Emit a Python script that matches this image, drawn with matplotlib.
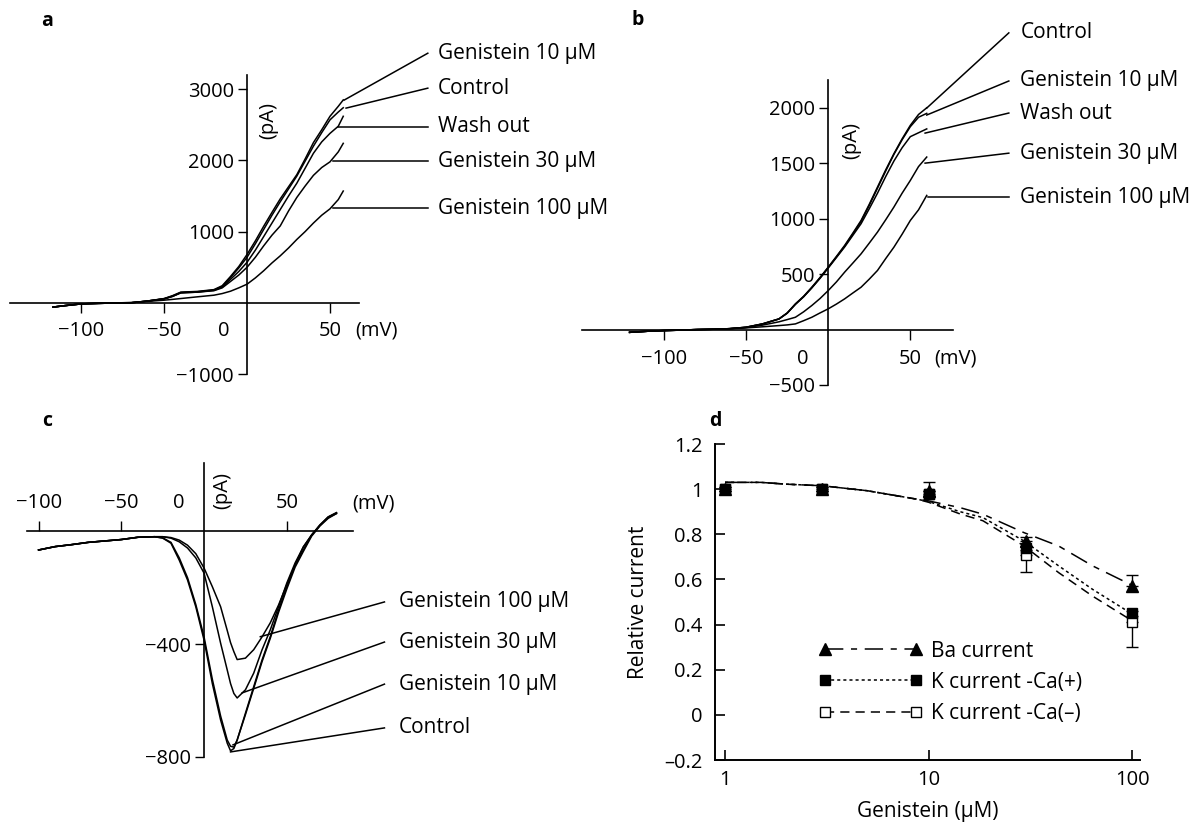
import matplotlib
matplotlib.use('Agg')
import matplotlib.pyplot as plt
from matplotlib.lines import Line2D
from matplotlib.ticker import NullLocator, FixedLocator, FixedFormatter

plt.rcParams['font.family'] = ['Open Sans', 'DejaVu Sans']
FS = 15
TFS = 14.5

# ---------------- data: panel a (mV, pA) ----------------
a_v = [-117, -110, -100, -90, -80, -70, -60, -50, -45, -40, -30, -20, -15, -10, -5,
       0, 5, 10, 15, 20, 25, 30, 35, 40, 45, 50, 55, 58]
a_g10 = [-60, -40, -15, -8, -3, 0, 25, 60, 100, 150, 160, 185, 240, 370, 510,
         680, 870, 1075, 1270, 1460, 1630, 1800, 2020, 2250, 2430, 2620, 2760, 2850]
a_ctrl = [-60, -40, -15, -8, -3, 0, 25, 58, 95, 145, 155, 180, 230, 355, 490,
          640, 830, 1030, 1230, 1420, 1600, 1780, 1990, 2200, 2390, 2570, 2680, 2740]
a_wash = [-60, -40, -15, -8, -3, 0, 25, 55, 90, 140, 150, 175, 220, 330, 440,
          570, 740, 930, 1120, 1310, 1500, 1680, 1890, 2100, 2260, 2380, 2480, 2620]
a_g30 = [-60, -40, -15, -8, -3, 0, 25, 55, 90, 140, 150, 170, 210, 300, 390,
         500, 640, 800, 950, 1080, 1290, 1480, 1640, 1790, 1900, 1980, 2120, 2240]
a_g100 = [-60, -40, -15, -8, -3, 5, 20, 37, 48, 60, 84, 107, 130, 163, 210,
          262, 350, 450, 560, 660, 770, 890, 1000, 1120, 1230, 1320, 1450, 1570]
a_names = ['Genistein 10 μM', 'Control', 'Wash out', 'Genistein 30 μM', 'Genistein 100 μM']
a_label_y = [3506, 3015, 2473, 1991, 1328]
a_tip_x = [58.5, 59.7, 55, 51.6, 51.6]
a_tip_y = [2847, 2735, 2473, 1991, 1328]

# ---------------- data: panel b (mV, pA) ----------------
b_v = [-121, -110, -100, -90, -80, -70, -60, -50, -40, -30, -25, -20, -15, -10, -5,
       0, 5, 10, 15, 20, 25, 30, 35, 40, 45, 50, 55, 60]
b_ctrl = [-25, -15, -9, -5, 0, 3, 8, 21, 51, 96, 150, 232, 300, 382, 470,
          563, 660, 759, 870, 984, 1130, 1285, 1440, 1586, 1720, 1842, 1940, 2000]
b_g10 = [-25, -15, -9, -5, 0, 3, 8, 21, 51, 96, 148, 228, 296, 378, 466,
         560, 655, 752, 862, 975, 1120, 1275, 1430, 1580, 1712, 1830, 1915, 1950]
b_wash = [-25, -15, -9, -5, 0, 3, 8, 21, 51, 96, 148, 228, 296, 376, 462,
          555, 650, 745, 850, 955, 1090, 1230, 1380, 1520, 1640, 1740, 1775, 1810]
b_g30 = [-25, -15, -9, -5, 0, 3, 8, 18, 40, 70, 90, 111, 160, 217, 280,
         352, 430, 518, 600, 683, 780, 879, 990, 1105, 1230, 1345, 1470, 1556]
b_g100 = [-25, -15, -9, -5, 0, 3, 8, 15, 25, 36, 42, 51, 80, 111, 150,
          187, 230, 277, 330, 382, 455, 533, 640, 743, 860, 984, 1080, 1210]
b_names = ['Control', 'Genistein 10 μM', 'Wash out', 'Genistein 30 μM', 'Genistein 100 μM']
b_label_y = [2676, 2242, 1953, 1591, 1193]
b_tip_x = [60, 60, 59, 59, 61]
b_tip_y = [1998, 1935, 1772, 1501, 1193]

# ---------------- data: panel c (mV, pA) ----------------
c_v = [-100, -90, -80, -70, -60, -50, -40, -30, -25, -20, -15, -10, -5, 0, 5, 10,
       14, 16, 18, 20, 25, 30, 35, 40, 45, 50, 55, 60, 65, 70, 75, 80]
c_ctrl = [-67, -55, -48, -40, -35, -30, -22, -20, -25, -43, -103, -173, -268, -386, -540, -669,
          -751, -778, -770, -740, -645, -551, -457, -374, -280, -197, -120, -67, -14, 20, 50, 65]
c_g10 = [-67, -55, -48, -40, -35, -30, -22, -20, -24, -40, -95, -165, -260, -375, -525, -655,
         -740, -762, -765, -740, -650, -557, -463, -380, -288, -205, -128, -72, -18, 18, 45, 62]
c_g30 = [-67, -55, -48, -40, -35, -30, -22, -20, -20, -25, -38, -60, -95, -149, -268, -397,
         -492, -540, -575, -591, -562, -503, -421, -350, -268, -184, -113, -56, -14, 22, 50, 65]
c_g100 = [-67, -55, -48, -40, -35, -30, -22, -20, -20, -23, -32, -50, -80, -131, -197, -268,
          -352, -395, -427, -455, -450, -420, -375, -325, -262, -190, -120, -56, -14, 20, 48, 62]
c_names = ['Genistein 100 μM', 'Genistein 30 μM', 'Genistein 10 μM', 'Control']
c_label_y = [-251, -393, -542, -697]
c_tip_x = [34, 23, 17.5, 16]
c_tip_y = [-374, -573, -757, -782]

# ---------------- data: panel d ----------------
conc = [1, 3, 10, 30, 100]
ba = [1.0, 1.0, 0.99, 0.77, 0.57]
ba_lo = [0.01, 0.01, 0.0, 0.0, 0.0]
ba_hi = [0.01, 0.01, 0.04, 0.02, 0.05]
kp = [1.0, 1.0, 0.98, 0.74, 0.45]
kp_lo = [0.01, 0.01, 0.01, 0.01, 0.01]
kp_hi = [0.01, 0.01, 0.01, 0.01, 0.01]
km = [1.0, 1.0, 0.98, 0.71, 0.41]
km_lo = [0.01, 0.01, 0.01, 0.075, 0.11]
km_hi = [0.0, 0.0, 0.0, 0.0, 0.0]
fit_x = [1, 1.5, 2, 3, 5, 8.7, 10, 14.3, 18.5, 29.5, 43.6, 64, 98]
fit_ba = [1.03, 1.03, 1.022, 1.015, 0.993, 0.956, 0.948, 0.918, 0.889, 0.807, 0.748, 0.66, 0.578]
fit_kp = [1.03, 1.03, 1.022, 1.015, 0.993, 0.956, 0.945, 0.90, 0.874, 0.77, 0.66, 0.556, 0.452]
fit_km = [1.03, 1.03, 1.022, 1.015, 0.993, 0.956, 0.942, 0.89, 0.86, 0.748, 0.63, 0.526, 0.422]
d_names = ['Ba current', 'K current -Ca(+)', 'K current -Ca(–)']
d_yticks = [-0.2, 0, 0.2, 0.4, 0.6, 0.8, 1.0, 1.2]
d_ylabels = ['–0.2', '0', '0.2', '0.4', '0.6', '0.8', '1', '1.2']

W, H = 1191, 825
fig = plt.figure(figsize=(W / 100, H / 100), dpi=100)
PX = 0.72  # points per pixel


def add_ax(x0, y0, x1, y1):
    return fig.add_axes([x0 / W, 1 - y1 / H, (x1 - x0) / W, (y1 - y0) / H])


def iv_axes(ax, xlim, ylim, xticks, yticks, ylabels, xdir):
    ax.set_xlim(xlim)
    ax.set_ylim(ylim)
    for s in ['top', 'right']:
        ax.spines[s].set_visible(False)
    ax.spines['left'].set_position(('data', 0))
    ax.spines['bottom'].set_position(('data', 0))
    for s in ['left', 'bottom']:
        ax.spines[s].set_linewidth(1.2)
    ax.set_xticks(xticks)
    ax.set_xticklabels([])
    ax.set_yticks(yticks)
    ax.set_yticklabels(ylabels)
    ax.tick_params(axis='x', direction=xdir, length=7, width=1)
    ax.tick_params(axis='y', direction='out', length=6.5, width=1, pad=3, labelsize=TFS)
    ax.patch.set_visible(False)


def x_labels(ax, ticks, labels, dy, zero_dx, mv_dx):
    for t, l in zip(ticks, labels):
        dx = zero_dx if t == 0 else 0
        ax.annotate(l, xy=(t, 0), xytext=(dx * PX, dy * PX), textcoords='offset points',
                    ha='center', va='center', fontsize=TFS)
    ax.annotate('(mV)', xy=(50, 0), xytext=(mv_dx * PX, dy * PX), textcoords='offset points',
                ha='left', va='center', fontsize=TFS)


def leaders(ax, names, ly, tx, ty, line_x, text_x):
    for n, y, x2, y2 in zip(names, ly, tx, ty):
        ax.plot([line_x, x2], [y, y2], color='k', lw=1.1, clip_on=False)
        ax.text(text_x, y, n, ha='left', va='center', fontsize=FS)


neg = '\u2212'
TLW = 1.1
# ---------------- panel a ----------------
ax = add_ax(10, 75, 359, 374)
iv_axes(ax, (-143, 67.5), (-1000, 3200), [-100, -50, 50], [-1000, 1000, 2000, 3000],
        [neg + '1000', '1000', '2000', '3000'], 'out')
for tr in [a_g10, a_ctrl, a_wash, a_g30, a_g100]:
    ax.plot(a_v, tr, color='k', lw=TLW)
x_labels(ax, [-100, -50, 0, 50], [neg + '100', neg + '50', '0', '50'], -28, -23, 25)
leaders(ax, a_names, a_label_y, a_tip_x, a_tip_y, 109, 115)
ax.text(12.7, 2567, '(pA)', rotation=90, ha='center', va='center', fontsize=TFS)

# ---------------- panel b ----------------
ax = add_ax(582, 80, 953, 385)
iv_axes(ax, (-150, 76), (-500, 2251), [-100, -50, 50], [-500, 500, 1000, 1500, 2000],
        [neg + '500', '500', '1000', '1500', '2000'], 'out')
for tr in [b_ctrl, b_g10, b_wash, b_g30, b_g100]:
    ax.plot(b_v, tr, color='k', lw=TLW)
x_labels(ax, [-100, -50, 0, 50], [neg + '100', neg + '50', '0', '50'], -29, -25, 24)
leaders(ax, b_names, b_label_y, b_tip_x, b_tip_y, 110, 117)
ax.text(14, 1709, '(pA)', rotation=90, ha='center', va='center', fontsize=TFS)

# ---------------- panel c ----------------
ax = add_ax(27, 463, 353, 757)
iv_axes(ax, (-107, 90), (-800, 241), [-100, -50, 50], [-800, -400],
        [neg + '800', neg + '400'], 'in')
for tr in [c_ctrl, c_g10, c_g30, c_g100]:
    ax.plot(c_v, tr, color='k', lw=TLW)
x_labels(ax, [-100, -50, 0, 50], [neg + '100', neg + '50', '0', '50'], 28, -25, 65)
leaders(ax, c_names, c_label_y, c_tip_x, c_tip_y, 109, 117.6)
ax.text(11, 145, '(pA)', rotation=90, ha='center', va='center', fontsize=TFS)

# ---------------- panel d ----------------
ax = add_ax(715, 444, 1140, 760)
ax.set_xscale('log')
ax.set_xlim(0.893, 109.4)
ax.set_ylim(-0.2, 1.2)
for s in ['top', 'right']:
    ax.spines[s].set_visible(False)
for s in ['left', 'bottom']:
    ax.spines[s].set_linewidth(1.4)
ax.xaxis.set_major_locator(FixedLocator([1, 10, 100]))
ax.xaxis.set_major_formatter(FixedFormatter(['1', '10', '100']))
ax.xaxis.set_minor_locator(NullLocator())
ax.set_yticks(d_yticks)
ax.set_yticklabels(d_ylabels)
ax.tick_params(axis='both', direction='in', length=7, width=1.2, labelsize=TFS)
ax.tick_params(axis='y', pad=9)
ax.tick_params(axis='x', pad=7)
ax.patch.set_visible(False)

ls_ba = (0, (12, 5, 4, 5))
ls_kp = (0, (2, 2))
ls_km = (0, (6, 4))
ax.plot(fit_x, fit_ba, color='k', lw=1.1, linestyle=ls_ba, zorder=2)
ax.plot(fit_x, fit_kp, color='k', lw=1.1, linestyle=ls_kp, zorder=2)
ax.plot(fit_x, fit_km, color='k', lw=1.1, linestyle=ls_km, zorder=2)
ax.errorbar(conc, km, yerr=[km_lo, km_hi], fmt='s', color='k', mfc='white', ms=7,
            capsize=4, elinewidth=1, capthick=1, zorder=3)
ax.errorbar(conc, ba, yerr=[ba_lo, ba_hi], fmt='^', color='k', ms=9, capsize=4,
            elinewidth=1, capthick=1, zorder=4)
ax.errorbar(conc, kp, yerr=[kp_lo, kp_hi], fmt='s', color='k', ms=7, capsize=4,
            elinewidth=1, capthick=1, zorder=5)

handles = [
    Line2D([], [], color='k', lw=1.1, linestyle=ls_ba, marker='^', ms=9),
    Line2D([], [], color='k', lw=1.1, linestyle=ls_kp, marker='s', ms=7),
    Line2D([], [], color='k', lw=1.1, linestyle=ls_km, marker='s', ms=7, mfc='white'),
]
ax.legend(handles, d_names, loc='upper left', bbox_to_anchor=(0.244, 0.378), numpoints=2,
          handlelength=4.95, frameon=False, fontsize=FS, labelspacing=0.49,
          handletextpad=0.43, borderaxespad=0, borderpad=0)
ax.set_ylabel('Relative current', fontsize=FS, labelpad=11)
ax.set_xlabel('Genistein (μM)', fontsize=FS, labelpad=8)

# panel letters
for lbl, x, y in [('a', 47, 21), ('b', 638, 20), ('c', 47, 421), ('d', 715, 421)]:
    fig.text(x / W, 1 - y / H, lbl, fontsize=14, fontweight='bold', ha='center', va='center')

fig.savefig('out.png', dpi=100)
